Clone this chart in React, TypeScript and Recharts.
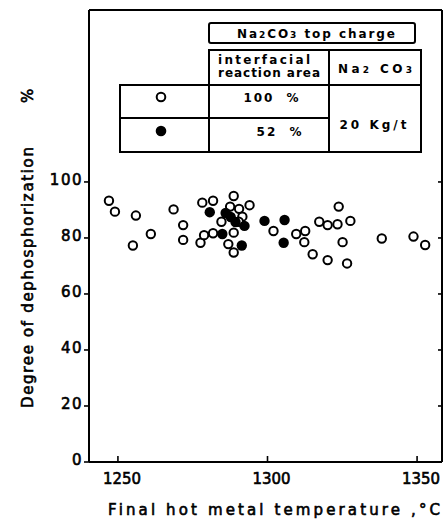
import { Scatter, ScatterChart, XAxis, YAxis } from "recharts";

// final hot metal temperature (°C), degree of dephosphorization (%)
const openPoints: [number, number][] = [
  [1247, 93.3], [1249, 89.4], [1256, 88], [1255, 77.3], [1261, 81.4],
  [1268.6, 90.2], [1271.8, 84.6], [1271.8, 79.3], [1278.2, 92.6], [1281.8, 93.3],
  [1288.7, 95], [1287.5, 91.2], [1290.5, 90.4], [1294, 91.7], [1284.6, 85.8],
  [1291.6, 87.6], [1290.4, 85.8], [1277.6, 78.3], [1278.8, 81], [1281.8, 81.7],
  [1288.7, 81.9], [1286.9, 77.8], [1288.7, 74.8], [1302, 82.5], [1309.6, 81.4],
  [1312.6, 82.5], [1312.3, 78.5], [1315.1, 74.2], [1320.1, 72.1], [1317.3, 85.8],
  [1320.1, 84.6], [1323.4, 84.9], [1323.8, 91.2], [1327.7, 86.1], [1325.1, 78.5],
  [1326.6, 70.9], [1338.2, 79.8], [1348.8, 80.5], [1352.7, 77.5]
];

const filledPoints: [number, number][] = [
  [1280.7, 89.2], [1286, 88.9], [1287.7, 87.5], [1289.3, 85.7], [1292.3, 84.3],
  [1284.9, 81.4], [1291.4, 77.3], [1299, 86.1], [1305.7, 86.4], [1305.4, 78.3]
];

const xTicks = [1250, 1300, 1350];
const yTicks = [0, 20, 40, 60, 80, 100];
const xDomain: [number, number] = [1240.33, 1358.33];
const yDomain: [number, number] = [0, 161.4];

const legendRows = [
  { filled: false, area: "100 %" },
  { filled: true, area: "52 %" }
];
const dose = "20 Kg/t";

const font = "'DejaVu Sans', sans-serif";
// regular glyphs with a thin outline, to get the medium weight of the scan
const ink = { fontFamily: font, fill: "#000", stroke: "#000", strokeWidth: 0.6 } as const;
const toData = (pts: [number, number][]) => pts.map(([t, d]) => ({ t, d }));

function BottomTick({ x, y, payload }: any) {
  return (
    <g>
      <line x1={x} x2={x} y1={y} y2={y - 6} stroke="#000" strokeWidth={1.6} />
      <text x={x + 4} y={y + 22} textAnchor="middle" {...ink} fontSize={15} textLength={38} lengthAdjust="spacingAndGlyphs">
        {payload.value}
      </text>
    </g>
  );
}

function TopTick({ x, y }: any) {
  return <line x1={x} x2={x} y1={y} y2={y + 5} stroke="#000" strokeWidth={1.6} />;
}

function RightTick({ x, y }: any) {
  return <line x1={x} x2={x - 4} y1={y} y2={y} stroke="#000" strokeWidth={1.6} />;
}

function LeftTick({ x, y, payload }: any) {
  return (
    <text x={x} y={y + 3} textAnchor="end" {...ink} fontSize={15} letterSpacing={1.5}>
      {payload.value}
    </text>
  );
}

function XTitle() {
  return (
    <text x={108} y={515} {...ink} fontSize={15} textLength={332} lengthAdjust="spacing">
      Final hot metal temperature ,°C
    </text>
  );
}

function YTitle() {
  return (
    <g>
      <text transform="translate(33,408) rotate(-90)" {...ink} fontSize={15} textLength={261} lengthAdjust="spacing">
        Degree of dephosphorization
      </text>
      <text transform="translate(33,103) rotate(-90)" {...ink} fontSize={15}>
        %
      </text>
    </g>
  );
}

function OpenDot({ cx, cy }: any) {
  return <circle cx={cx} cy={cy} r={4.2} fill="#fff" stroke="#000" strokeWidth={2} />;
}

function FilledDot({ cx, cy }: any) {
  return <circle cx={cx} cy={cy} r={5.2} fill="#000" />;
}

function LegendTable() {
  const txt = { fontFamily: font, fontSize: 12, fontWeight: 700, fill: "#000" } as const;
  const line = { stroke: "#000", strokeWidth: 2, fill: "none" } as const;
  return (
    <svg width={443} height={519} style={{ position: "absolute", left: 0, top: 0, pointerEvents: "none" }}>
      <rect x={209} y={23} width={206} height={20} rx={2} {...line} />
      <text x={237} y={38} {...txt} textLength={158} lengthAdjust="spacing">
        Na<tspan fontSize={9}>2</tspan>CO<tspan fontSize={9}>3</tspan>  top  charge
      </text>
      <rect x={209} y={50} width={212} height={102} {...line} />
      <rect x={120} y={85} width={89} height={67} {...line} />
      <line x1={209} x2={421} y1={85} y2={85} {...line} />
      <line x1={120} x2={329} y1={118} y2={118} {...line} />
      <line x1={329} x2={329} y1={50} y2={152} {...line} />
      <text x={218} y={64} {...txt} textLength={92} lengthAdjust="spacing">interfacial</text>
      <text x={218} y={77} {...txt} textLength={102} lengthAdjust="spacing">reaction area</text>
      <text x={338} y={73} {...txt} textLength={74} lengthAdjust="spacing">
        Na<tspan fontSize={9}>2</tspan> CO<tspan fontSize={9}>3</tspan>
      </text>
      {legendRows.map((row, i) => {
        const cy = i === 0 ? 97 : 131;
        return (
          <g key={row.area}>
            <circle cx={161} cy={cy} r={row.filled ? 5.3 : 4.3} fill={row.filled ? "#000" : "#fff"} stroke="#000" strokeWidth={row.filled ? 0 : 2} />
            <text x={i === 0 ? 272 : 280} y={cy + 5} textAnchor="middle" {...txt} letterSpacing={2} wordSpacing={6}>
              {row.area}
            </text>
          </g>
        );
      })}
      <text x={373} y={129} textAnchor="middle" {...txt} textLength={67} lengthAdjust="spacing">
        {dose}
      </text>
    </svg>
  );
}

export default function App() {
  return (
    <div style={{ position: "absolute", left: 0, top: 0, width: 443, height: 519, background: "#fff" }}>
      <ScatterChart width={443} height={519} margin={{ top: 9, right: 0, bottom: 0, left: 0 }}>
        <XAxis
          xAxisId={0}
          type="number"
          dataKey="t"
          domain={xDomain}
          allowDataOverflow
          ticks={xTicks}
          height={57}
          axisLine={{ stroke: "#000", strokeWidth: 2 }}
          tickLine={false}
          tickSize={0}
          tickMargin={0}
          tick={<BottomTick />}
          label={<XTitle />}
        />
        <XAxis
          xAxisId="top"
          orientation="top"
          type="number"
          domain={xDomain}
          allowDataOverflow
          ticks={xTicks}
          height={1}
          axisLine={{ stroke: "#000", strokeWidth: 2 }}
          tickLine={false}
          tickSize={0}
          tickMargin={0}
          tick={<TopTick />}
        />
        <YAxis
          yAxisId={0}
          type="number"
          dataKey="d"
          domain={yDomain}
          allowDataOverflow
          ticks={yTicks}
          width={89}
          axisLine={{ stroke: "#000", strokeWidth: 2 }}
          tickLine={{ stroke: "#000", strokeWidth: 1.6 }}
          tickSize={5}
          tickMargin={1}
          tick={<LeftTick />}
          label={<YTitle />}
        />
        <YAxis
          yAxisId="right"
          orientation="right"
          type="number"
          domain={yDomain}
          allowDataOverflow
          ticks={yTicks}
          width={1}
          axisLine={{ stroke: "#000", strokeWidth: 2 }}
          tickLine={false}
          tickSize={0}
          tickMargin={0}
          tick={<RightTick />}
        />
        <Scatter data={toData(openPoints)} shape={<OpenDot />} isAnimationActive={false} />
        <Scatter data={toData(filledPoints)} shape={<FilledDot />} isAnimationActive={false} />
      </ScatterChart>
      <LegendTable />
    </div>
  );
}
